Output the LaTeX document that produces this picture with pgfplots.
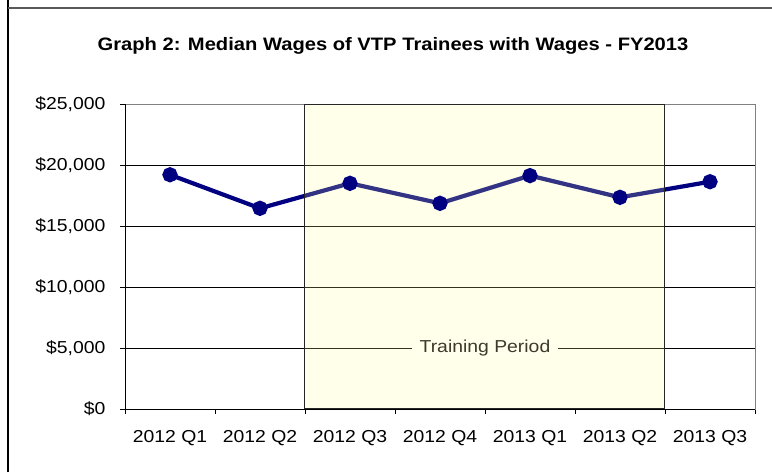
\documentclass[border=0pt]{standalone}
\usepackage{pgfplots}
\pgfplotsset{compat=1.18}
\usepackage{fontspec}
\setmainfont{Liberation Sans}[FakeStretch=1.12]
\definecolor{navyline}{HTML}{000080}
\definecolor{boxfill}{HTML}{FFFF99}
\definecolor{boxlabel}{HTML}{FFFFEB}
\begin{document}
\begin{tikzpicture}[x=1pt,y=1pt]
\useasboundingbox (0,0) rectangle (772,472);
\fill[white] (0,0) rectangle (772,472);
\draw[black, line width=1.3pt] (8,0) -- (8,472);
\draw[gray!70!black, line width=1.3pt] (8,464) -- (772,464);
\node[font=\bfseries\fontsize{18}{22}\selectfont, anchor=base] at (393,421) {Graph 2: Median Wages of VTP Trainees with Wages - FY2013};
\begin{axis}[
  at={(125pt,63pt)}, anchor=south west,
  scale only axis, width=630pt, height=305pt,
  xmin=0, xmax=7, ymin=0, ymax=25000,
  axis line style={gray, line width=0.8pt},
  xtick={0,1,...,7}, xticklabels={},
  extra x ticks={0.5,1.5,...,6.5},
  extra x tick labels={2012 Q1,2012 Q2,2012 Q3,2012 Q4,2013 Q1,2013 Q2,2013 Q3},
  extra x tick style={major tick length=0pt, grid=none},
  ytick={0,5000,...,25000},
  tick pos=left,
  tick align=outside, major tick length=5pt,
  tick style={black, line width=0.6pt},
  ymajorgrids, grid style={black, line width=0.6pt},
  /pgf/number format/assume math mode=true,
  /pgf/number format/1000 sep={,},
  scaled y ticks=false,
  yticklabel={\$\pgfmathprintnumber{\tick}},
  ticklabel style={font=\fontsize{17.3}{20}\selectfont},
  xticklabel style={yshift=-18pt},
  yticklabel style={xshift=-11pt},
  clip=false,
]
\draw[black, line width=0.9pt] (rel axis cs:0,1) -- (rel axis cs:0,0) -- (rel axis cs:1,0);
\addplot[navyline, line width=4.2pt, mark=*, mark size=5.5pt, mark options={solid}] coordinates {
  (0.5,19200) (1.5,16450) (2.5,18500) (3.5,16860) (4.5,19130) (5.5,17350) (6.5,18630)
};
\addplot[draw=none, fill=boxfill, fill opacity=0.2] coordinates {(2,0) (2,25000) (6,25000) (6,0)} -- cycle;
\addplot[draw=black!85, line width=1pt, fill=none] coordinates {(2,0) (2,25000) (6,25000) (6,0)} -- cycle;
\node[fill=boxlabel, text=black!75!olive, inner xsep=8pt, inner ysep=2pt, font=\fontsize{17.3}{20}\selectfont] at (axis cs:4,5000) {Training Period};
\end{axis}
\end{tikzpicture}
\end{document}
